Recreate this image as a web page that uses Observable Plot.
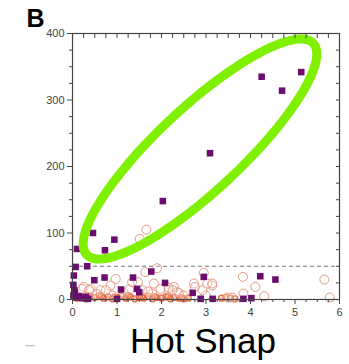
<!DOCTYPE html>
<html><head><meta charset="utf-8">
<script src="https://cdn.jsdelivr.net/npm/d3@7"></script>
<script src="https://cdn.jsdelivr.net/npm/@observablehq/plot@0.6"></script>
<style>body{margin:0;background:#fff;} #c{position:relative;width:349px;height:364px;}</style>
</head><body><div id="c"></div>
<script>
// Purple filled squares
const squareX = [4.25,4.71,5.14,3.09,2.03,0.46,0.94,0.73,0.10,0.07,0.33,0.49,0.72,1.09,1.36,1.45,1.50,1.77,2.08,1.00,0.03,0.04,0.05,2.70,2.95,2.88,3.15,3.84,4.02,4.22,4.56,0.08,0.15,0.22,0.30,0.35,0.02,0.02];
const squareY = [335,314,342,220,148,100,90,74,76,49,50,29,33,15,33,16,11,42,25,1,36,14,11,10,34,1,1,1,2,35,30,3,5,2,4,1,22,6];
// Open salmon circles
const circleX = [1.66,1.51,1.64,1.90,0.97,0.85,1.34,1.47,0.25,0.40,0.63,1.79,1.98,2.16,2.28,2.35,1.83,2.16,2.39,2.95,2.73,2.75,2.99,3.14,3.83,3.48,3.59,4.11,3.84,4.31,5.66,5.78,0.22,0.37,0.75,1.27,1.57,2.25,2.92,0.55,1.15,1.70,0.90,2.50,3.03,3.14];
const circleY = [105,91,41,47,31,21,26,26,19,16,14,9,16,14,19,11,24,18,10,40,24,19,6,21,34,3,3,19,9,5,30,3,16,14,14,15,14,14,14,8,10,12,6,6,24,24];
// Orange-red points near zero
const lowX = [0.10,0.20,0.30,0.40,0.50,0.60,0.70,0.80,0.90,1.00,1.10,1.20,1.30,1.40,1.50,1.60,1.70,1.80,1.90,2.00,2.10,2.20,2.30,2.40,2.50,2.60,0.35,0.65,0.95,1.25,1.55,1.85,2.15,2.45,3.35,3.45,3.55,3.65];
const lowY = [2,4,1,5,3,6,2,4,1,3,5,2,4,1,3,2,5,1,3,2,4,1,3,2,1,2,6,5,4,6,5,4,5,3,2,3,2,1];
// Ellipse annotation (center, semi-axis vectors, in data units)
const ellipseCenter = [2.865, 226.3];
const ellipseMajor = [2.546, 158.9];
const ellipseMinor = [0.64, -46];
// Ticks
const xMajor = [0,1,2,3,4,5,6];
const yMajor = [0,100,200,300,400];
const xMinor = d3.range(0, 6.001, 0.25).filter(v => Math.abs(v - Math.round(v)) > 1e-9);
const yMinor = d3.range(0, 401, 25).filter(v => v % 100 !== 0);
const threshold = 50;

const squares = squareX.map((x,i)=>({x, y: squareY[i]}));
const circles = circleX.map((x,i)=>({x, y: circleY[i]}));
const lows = lowX.map((x,i)=>({x, y: lowY[i]}));
const ell = d3.range(0, 361, 3).map(a => {
  const t = a*Math.PI/180;
  return {x: ellipseCenter[0] + Math.cos(t)*ellipseMajor[0] + Math.sin(t)*ellipseMinor[0],
          y: ellipseCenter[1] + Math.cos(t)*ellipseMajor[1] + Math.sin(t)*ellipseMinor[1]};
});

const axisCol = "#444";
const fmt = d => String(d);
const chart = Plot.plot({
  width: 349, height: 364,
  marginLeft: 72, marginRight: 10, marginTop: 33, marginBottom: 65,
  style: {fontFamily: "Liberation Sans, Arial, sans-serif", fontSize: "11px", color: axisCol, background: "white"},
  x: {domain: [0,6]},
  y: {domain: [0,400]},
  marks: [
    Plot.ruleY([threshold], {stroke: "#777", strokeDasharray: "4,3", strokeWidth: 1.2}),
    Plot.dot(lows, {x:"x", y:"y", r: 3, stroke: "#e8673c", strokeWidth: 1.2, fill: "#f39a7a", fillOpacity: 0.3}),
    Plot.dot(circles, {x:"x", y:"y", r: 4.5, stroke: "#e49a86", strokeWidth: 1, fill: "white", fillOpacity: 0.2}),
    Plot.dot(squares, {x:"x", y:"y", symbol: "square", r: 3.7, fill: "#6a0d6e"}),
    Plot.line(ell, {x:"x", y:"y", stroke: "#7ff000", strokeWidth: 9, curve: "catmull-rom-closed"}),
    Plot.frame({stroke: axisCol, strokeWidth: 1.2}),
    Plot.axisX({ticks: xMajor, tickSize: 5, tickPadding: 4, tickFormat: fmt, label: null, stroke: axisCol}),
    Plot.axisX({ticks: xMinor, tickSize: 3, text: null, label: null, stroke: axisCol}),
    Plot.axisY({ticks: yMajor, tickSize: 5, tickPadding: 3, tickFormat: fmt, label: null, stroke: axisCol}),
    Plot.axisY({ticks: yMinor, tickSize: 3, text: null, label: null, stroke: axisCol}),
    Plot.axisX({anchor: "top", ticks: xMajor.concat(xMinor), tickSize: -4, text: null, label: null, stroke: axisCol}),
    Plot.axisY({anchor: "right", ticks: yMajor.concat(yMinor), tickSize: -4, text: null, label: null, stroke: axisCol}),
    Plot.text(["B"], {frameAnchor: "top-left", dx: -72 + 26, dy: -33 + 9, text: d => d, fontSize: 25, fontWeight: "bold", fill: "#000", textAnchor: "start", lineAnchor: "top"}),
    Plot.text(["Hot Snap"], {frameAnchor: "bottom", dx: -3, dy: 53, text: d => d, fontSize: 35, fill: "#000", lineAnchor: "bottom"}),
    Plot.text(["\u2013"], {frameAnchor: "bottom-left", dx: -72 + 25, dy: 50, text: d => d, fontSize: 16, fill: "#bbb", textAnchor: "start", lineAnchor: "bottom"})
  ]
});
document.getElementById("c").appendChild(chart);
</script></body></html>
